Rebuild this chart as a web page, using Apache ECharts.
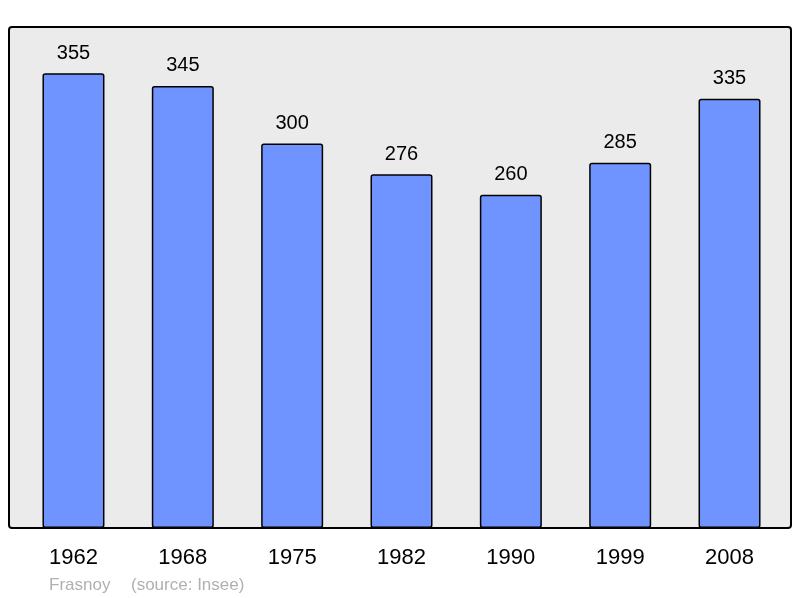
<!DOCTYPE html>
<html><head><meta charset="utf-8">
<script src="https://cdn.jsdelivr.net/npm/echarts@6/dist/echarts.min.js"></script>
<style>html,body{margin:0;padding:0;background:#fff}#c{width:800px;height:598px}</style>
</head><body><div id="c"></div>
<script>
const categories = ['1962','1968','1975','1982','1990','1999','2008'];
const population = [355, 345, 300, 276, 260, 285, 335];
const placeName = 'Frasnoy';
const sourceText = '(source: Insee)';

const chart = echarts.init(document.getElementById('c'), null, {renderer:'canvas'});
const FONT = '"Liberation Sans", Arial, sans-serif';
chart.setOption({
  animation: false,
  backgroundColor: '#ffffff',
  graphic: [
    {type:'rect', z:-10, shape:{x:9, y:27, width:782, height:501, r:3},
     style:{fill:'#ebebeb', stroke:'#000', lineWidth:2}},
    {type:'text', left:49, top:577, style:{text:placeName, fill:'#b0b0b0', font:'17px ' + FONT}},
    {type:'text', left:131, top:577, style:{text:sourceText, fill:'#b0b0b0', font:'17px ' + FONT}}
  ],
  grid: {left:18.8, top:27, width:765.4, height:501, containLabel:false},
  xAxis: {
    type:'category', data:categories,
    axisLine:{show:false}, axisTick:{show:false},
    axisLabel:{color:'#000', fontSize:22, fontFamily:FONT, margin:19}
  },
  yAxis: {type:'value', min:0, max:391, show:false, splitLine:{show:false}},
  series: [{
    type:'bar', data:population, barWidth:62,
    itemStyle:{color:'#7094ff', borderColor:'#000', borderWidth:1.5, borderRadius:2},
    label:{show:true, position:'top', distance:10, color:'#000', fontSize:20, fontFamily:FONT}
  }]
});
</script></body></html>
